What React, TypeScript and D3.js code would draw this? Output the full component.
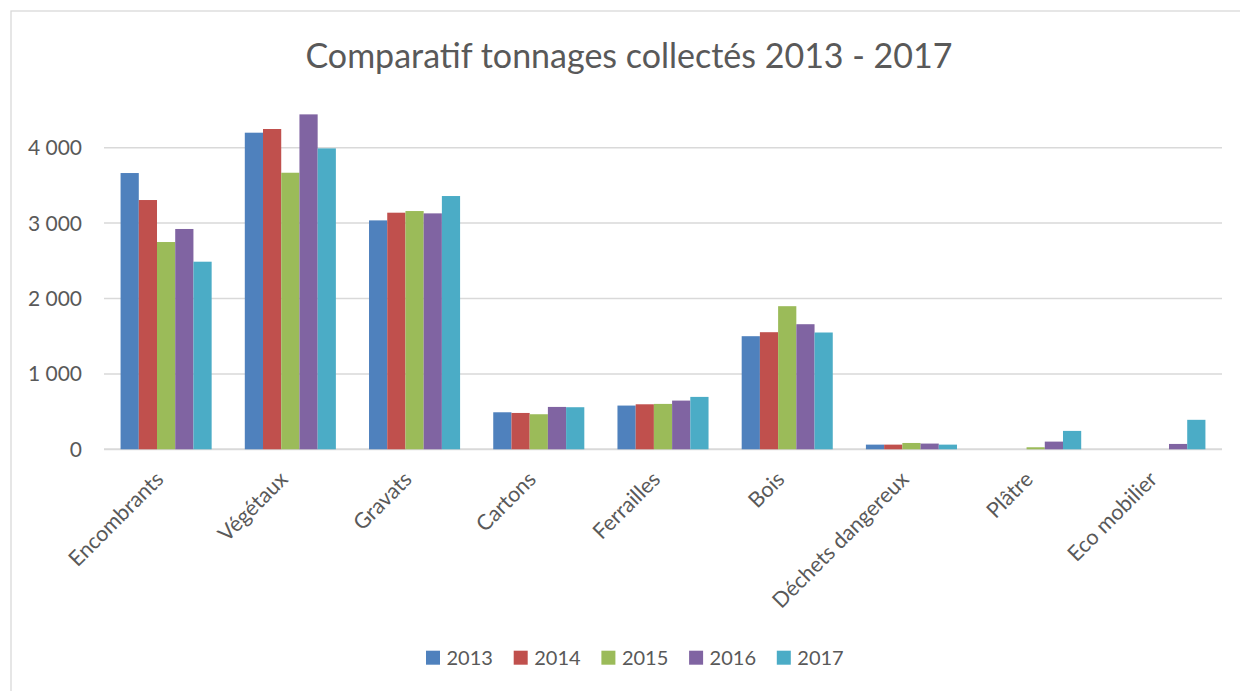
import React from 'react';
import * as d3 from 'd3';

// données (tonnes)
const categories = ['Encombrants', 'Végétaux', 'Gravats', 'Cartons', 'Ferrailles', 'Bois', 'Déchets dangereux', 'Plâtre', 'Eco mobilier'];
const years = ['2013', '2014', '2015', '2016', '2017'];
const v2013 = [3664, 4199, 3036, 491, 580, 1500, 62, 0, 0];
const v2014 = [3306, 4248, 3138, 482, 597, 1553, 62, 0, 0];
const v2015 = [2749, 3668, 3160, 465, 602, 1898, 84, 27, 0];
const v2016 = [2922, 4442, 3129, 562, 646, 1659, 76, 102, 71];
const v2017 = [2488, 3991, 3359, 558, 695, 1549, 62, 244, 391];
const yTicks = [0, 1000, 2000, 3000, 4000];
const colors = ['#4f81bd', '#c0504d', '#9bbb59', '#8064a2', '#4bacc6'];

const series = [v2013, v2014, v2015, v2016, v2017];

const W = 1240;
const H = 691;
const font = 'Lato, "Open Sans", sans-serif';
const textColor = '#595959';

const fr = d3.formatLocale({ thousands: ' ', grouping: [3], decimal: ',', currency: ['', ''] });
const fmt = fr.format(',d');

export default function App() {
  const x = d3.scaleBand<string>().domain(categories).range([104, 1222]).padding(0);
  const inner = d3.scaleBand<string>().domain(years).range([0, x.bandwidth()]).paddingInner(0).paddingOuter(0.91);
  const y = d3.scaleLinear().domain([0, 4000]).range([449.3, 147.7]);

  return (
    <svg width={W} height={H} style={{ position: 'absolute', left: 0, top: 0, background: '#fff' }} fontFamily={font}>
      {/* cadre */}
      <rect x={11} y={11} width={W + 20} height={H + 20} fill="#fff" stroke="#d9d9d9" strokeWidth={1.3} />

      <text x={629} y={68} textAnchor="middle" fontSize={34} fill={textColor}>
        Comparatif tonnages collectés 2013 - 2017
      </text>

      {/* grille */}
      {yTicks.map(t => (
        <g key={t}>
          <line x1={104} x2={1222} y1={y(t)} y2={y(t)} stroke="#d9d9d9" strokeWidth={t === 0 ? 2 : 1.5} />
          <text x={82} y={y(t)} dy="0.36em" textAnchor="end" fontSize={21} fill={textColor}>{fmt(t)}</text>
        </g>
      ))}

      {/* barres */}
      {categories.map((c, i) => (
        <g key={c} transform={`translate(${x(c)},0)`}>
          {series.map((s, j) => (
            s[i] > 0 ? (
              <rect key={years[j]} x={inner(years[j])} width={inner.bandwidth()} y={y(s[i])} height={y(0) - y(s[i])} fill={colors[j]} />
            ) : null
          ))}
        </g>
      ))}

      {/* étiquettes des catégories */}
      {categories.map(c => {
        const cx = (x(c) as number) + x.bandwidth() / 2 - 12;
        return (
          <text key={c} transform={`translate(${cx},470) rotate(-45)`} textAnchor="end" dy="0.7em" fontSize={21.5} fill={textColor}>
            {c}
          </text>
        );
      })}

      {/* légende */}
      {years.map((yr, j) => (
        <g key={yr} transform={`translate(${426 + j * 87.7},650.7)`}>
          <rect width={14} height={14} fill={colors[j]} />
          <text x={20.5} y={14} fontSize={20} fill={textColor}>{yr}</text>
        </g>
      ))}
    </svg>
  );
}
